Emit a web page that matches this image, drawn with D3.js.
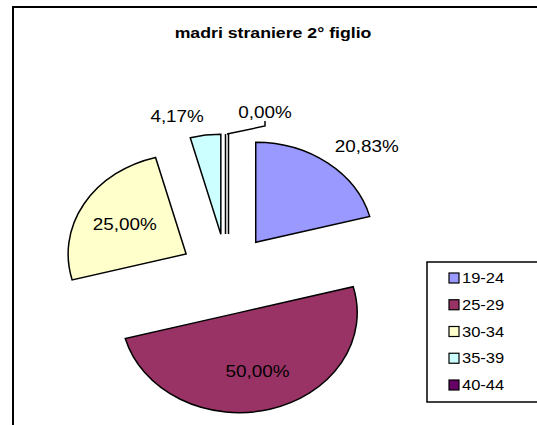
<!DOCTYPE html>
<html>
<head>
<meta charset="utf-8">
<script src="https://cdn.jsdelivr.net/npm/d3@7"></script>
<style>
  html, body { margin: 0; padding: 0; background: #fff; }
  svg { display: block; font-family: "Liberation Sans", Arial, sans-serif; }
</style>
</head>
<body>
<div id="chart"></div>
<script>
// data
const categories = ["19-24", "25-29", "30-34", "35-39", "40-44"];
const shares = [20.83, 50.00, 25.00, 4.17, 0.00];
const colors = ["#9999FF", "#993366", "#FFFFCC", "#CCFFFF", "#660066"];
const title = "madri straniere 2° figlio";

const W = 537, H = 425;
const cx = 227, cy = 274;      // pie centre
const rx = 118, ry = 100;      // the whole picture is stretched horizontally
const sx = rx / ry;
const explode = 0.4;

const svg = d3.select("#chart").append("svg")
  .attr("width", W).attr("height", H);

// stretched text helper
function label(x, y, txt, size, anchor, bold) {
  return svg.append("text")
    .attr("transform", `translate(${x},${y}) scale(${sx},1)`)
    .attr("text-anchor", anchor || "start")
    .style("font-size", size + "px")
    .style("font-weight", bold ? "bold" : null)
    .text(txt);
}

// chart frame (runs off the right / bottom edges)
svg.append("rect")
  .attr("x", 13).attr("y", 7)
  .attr("width", 700).attr("height", 600)
  .attr("fill", "#fff").attr("stroke", "#000").attr("stroke-width", 2);

label(273, 38, title, 15, "middle", true);

const pie = d3.pie().sort(null).value(d => d);
const arcs = pie(shares);
const arc = d3.arc().innerRadius(0).outerRadius(rx);

const g = svg.append("g")
  .attr("transform", `translate(${cx},${cy}) scale(1,${ry / rx})`);

const mid = d => (d.startAngle + d.endAngle) / 2;

const slices = g.selectAll(".slice")
  .data(arcs)
  .join("g")
  .attr("class", "slice")
  .attr("transform", d => {
    const a = mid(d);
    return `translate(${Math.sin(a) * rx * explode},${-Math.cos(a) * rx * explode})`;
  });

// zero slices show as a thin double line in the original
slices.filter(d => d.value === 0).append("path")
  .attr("d", arc)
  .attr("fill", "none")
  .attr("stroke", "#000")
  .attr("stroke-width", 4.5)
  .attr("vector-effect", "non-scaling-stroke");

slices.append("path")
  .attr("d", arc)
  .attr("fill", (d, i) => colors[i])
  .attr("stroke", d => d.value === 0 ? "#fff" : "#000")
  .attr("stroke-width", 1.5)
  .attr("vector-effect", "non-scaling-stroke");

// data labels
const fmt = v => d3.format(".2f")(v).replace(".", ",") + "%";
const labelFont = 16;

arcs.forEach(d => {
  const a = mid(d);
  const ox = cx + Math.sin(a) * rx * explode;
  const oy = cy - Math.cos(a) * ry * explode;
  if (d.value >= 25) {
    const k = 0.6;
    label(ox + Math.sin(a) * rx * k, oy - Math.cos(a) * ry * k + 6, fmt(d.value), labelFont, "middle");
  } else if (d.value === 0) {
    const px = ox, py = oy - ry;
    svg.append("polyline")
      .attr("points", [[px, py], [px + 38, py - 8], [px + 38, py - 13]].map(p => p.join(",")).join(" "))
      .attr("fill", "none").attr("stroke", "#000").attr("stroke-width", 1.5);
    label(px + 38, py - 16, fmt(d.value), labelFont, "middle");
  } else {
    const k = 1.1;
    const px = ox + Math.sin(a) * rx * k;
    const py = oy - Math.cos(a) * ry * k;
    label(px, py - 3, fmt(d.value), labelFont, Math.sin(a) >= 0 ? "start" : "end");
  }
});

// legend
const lg = svg.append("g").attr("transform", "translate(427,262)");
lg.append("rect")
  .attr("width", 120).attr("height", 140)
  .attr("fill", "#fff").attr("stroke", "#000").attr("stroke-width", 1.5);

const rowY = d3.scalePoint().domain(categories).range([16, 123]);

const items = lg.selectAll(".item").data(categories).join("g")
  .attr("class", "item")
  .attr("transform", d => `translate(0,${rowY(d)})`);

items.append("rect")
  .attr("x", 22).attr("y", -5)
  .attr("width", 10).attr("height", 10)
  .attr("fill", (d, i) => colors[i])
  .attr("stroke", "#000").attr("stroke-width", 1.2);

items.append("text")
  .attr("transform", `translate(35,0) scale(${sx},1)`)
  .attr("dy", "0.36em")
  .style("font-size", "14px")
  .text(d => d);
</script>
</body>
</html>
